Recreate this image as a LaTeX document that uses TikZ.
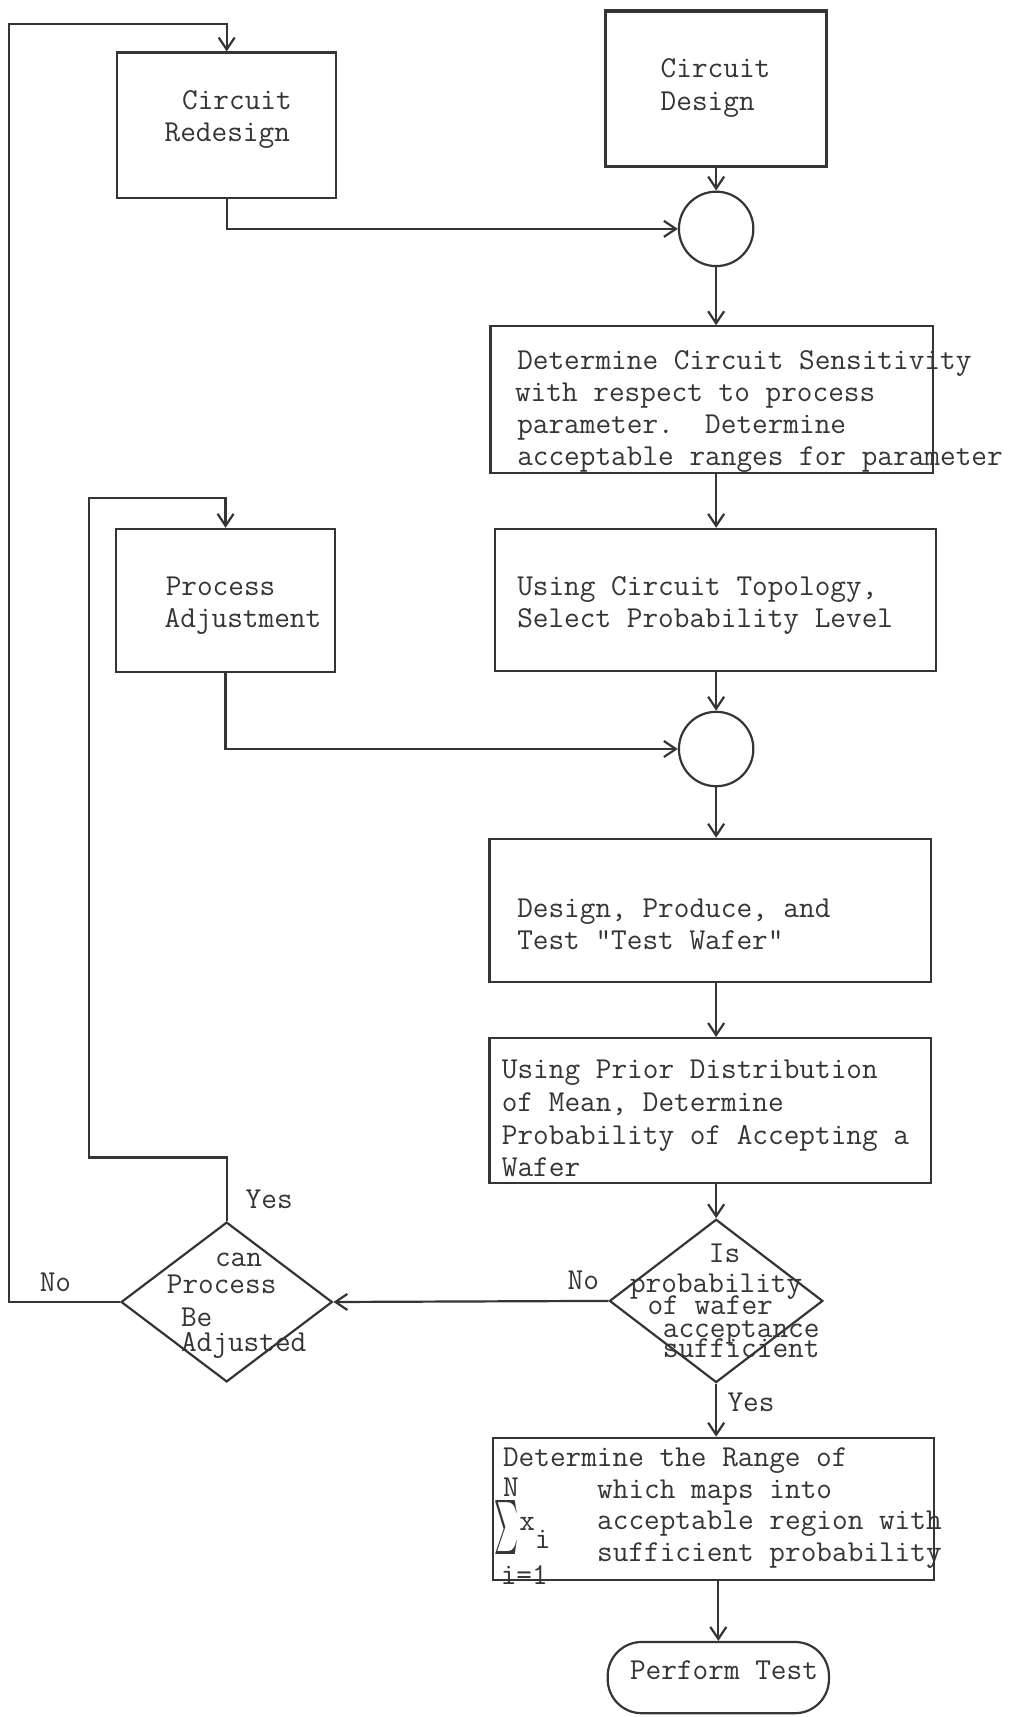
\documentclass[tikz,border=0pt]{standalone}
\usepackage{graphicx}
\usetikzlibrary{shapes.geometric,arrows.meta,fit}
\definecolor{ink}{HTML}{353535}
\begin{document}
\begin{tikzpicture}[x=0.54735pt,y=-0.54735pt,
  box/.style={draw=ink,line width=1.1pt,inner sep=0pt},
  junction/.style={circle,draw=ink,line width=1.1pt,minimum size=37.2pt,inner sep=0pt},
  decision/.style={diamond,draw=ink,line width=1.1pt,inner sep=0pt},
  arr/.style={draw=ink,line width=1.1pt,-{Straight Barb[length=6pt,width=8pt]}},
  txt/.style={anchor=base west,inner sep=0pt,text=ink,font=\ttfamily\fontsize{15.2}{16}\selectfont}
]
\useasboundingbox[fill=white] (0,0) rectangle (929,1568);

% boxes
\node[box,fit={(107,48) (307,181)}] (redesign) {};
\node[box,line width=1.7pt,fit={(553,10) (755,152)}] (design) {};
\node[box,fit={(448,298) (852,432)}] (sens) {};
\node[box,fit={(452,483) (855,613)}] (topo) {};
\node[box,fit={(106,483) (306,614)}] (procadj) {};
\node[box,fit={(447,766) (850,897)}] (wafer) {};
\node[box,fit={(447,948) (850,1080)}] (prior) {};
\node[box,fit={(450,1313) (853,1443)}] (range) {};
\node[junction] (c1) at (654,209) {};
\node[junction] (c2) at (654,684) {};
\node[decision,minimum width=106.7pt,minimum height=81.6pt] (d1) at (654,1188) {};
\node[decision,minimum width=105.6pt,minimum height=79.9pt] (d2) at (207,1189) {};
\node[draw=ink,line width=1.1pt,rounded corners=17pt,minimum width=110.6pt,minimum height=35.6pt,inner sep=0pt] (perf) at (656,1532) {};

% connectors
\draw[arr] (design) -- (c1);
\draw[arr] (redesign.south) |- (c1.west);
\draw[arr] (c1.south) -- (c1 |- sens.north);
\draw[arr] (c1 |- sens.south) -- (c1 |- topo.north);
\draw[arr] (c1 |- topo.south) -- (c2.north);
\draw[arr] (procadj.south) |- (c2.west);
\draw[arr] (c2.south) -- (c2 |- wafer.north);
\draw[arr] (c2 |- wafer.south) -- (c2 |- prior.north);
\draw[arr] (c2 |- prior.south) -- (d1.north);
\draw[arr] (d1.west) -- (d2.east);
\draw[arr] (d1.south) -- (d1 |- range.north);
\draw[arr] (perf |- range.south) -- (perf.north);
\coordinate (yesA) at (81,1057);
\coordinate (yesB) at (81,455);
\draw[arr] (d2.north) |- (yesA) -- (yesB) -| (procadj.north);
\coordinate (noA) at (8,22);
\draw[arr] (d2.west) -| (noA) -| (redesign.north);

% texts
\node[txt] (t1) at (166,100) {Circuit};
\node[txt] (t2) at (150,129) {Redesign};
\node[txt] (t3) at (603,71) {Circuit};
\node[txt] (t4) at (603,101) {Design};
\node[txt] (t5) at (472,337) {Determine Circuit Sensitivity};
\node[txt] (t6) at (470,367) {with respect to process};
\node[txt] (t7) at (472,396) {parameter.~~Determine};
\node[txt] (t8) at (472,425) {acceptable ranges for parameter};
\node[txt] (t9) at (472,544) {Using Circuit Topology,};
\node[txt] (t10) at (472,573) {Select Probability Level};
\node[txt] (t11) at (151,544) {Process};
\node[txt] (t12) at (150,573) {Adjustment};
\node[txt] (t13) at (472,838) {Design, Produce, and};
\node[txt] (t14) at (472,867) {Test "Test Wafer"};
\node[txt] (t15) at (458,985) {Using Prior Distribution};
\node[txt] (t16) at (458,1015) {of Mean, Determine};
\node[txt] (t17) at (458,1045) {Probability of Accepting a};
\node[txt] (t18) at (458,1074) {Wafer};
\node[txt] (t19) at (647,1153) {Is};
\node[txt] (t20) at (575,1180) {probability};
\node[txt] (t21) at (591,1200) {of wafer};
\node[txt] (t22) at (605,1221) {acceptance};
\node[txt] (t23) at (605,1240) {sufficient};
\node[txt] (t24) at (196,1157) {can};
\node[txt] (t25) at (152,1181) {Process};
\node[txt] (t26) at (165,1211) {Be};
\node[txt] (t27) at (165,1234) {Adjusted};
\node[txt] (no1) at (518,1178) {No};
\node[txt] (no2) at (36,1179) {No};
\node[txt] (yes1) at (224,1104) {Yes};
\node[txt] (yes2) at (664,1289) {Yes};
\node[txt] (t28) at (459,1339) {Determine the Range of};
\node[txt] (t29) at (459,1367) {N};
\node[txt] (t30) at (545,1368) {which maps into};
\node[txt] (t31) at (545,1397) {acceptable region with};
\node[txt] (t32) at (545,1426) {sufficient probability};
\node[inner sep=0pt,text=ink] (sig) at (463,1395) {\resizebox*{12pt}{27pt}{$\sum$}};
\node[txt] (t33) at (474,1398) {x};
\node[txt] (t34) at (488,1414) {i};
\node[txt] (t35) at (457,1447) {i=1};
\node[txt] (t36) at (575,1534) {Perform Test};
\end{tikzpicture}
\end{document}
